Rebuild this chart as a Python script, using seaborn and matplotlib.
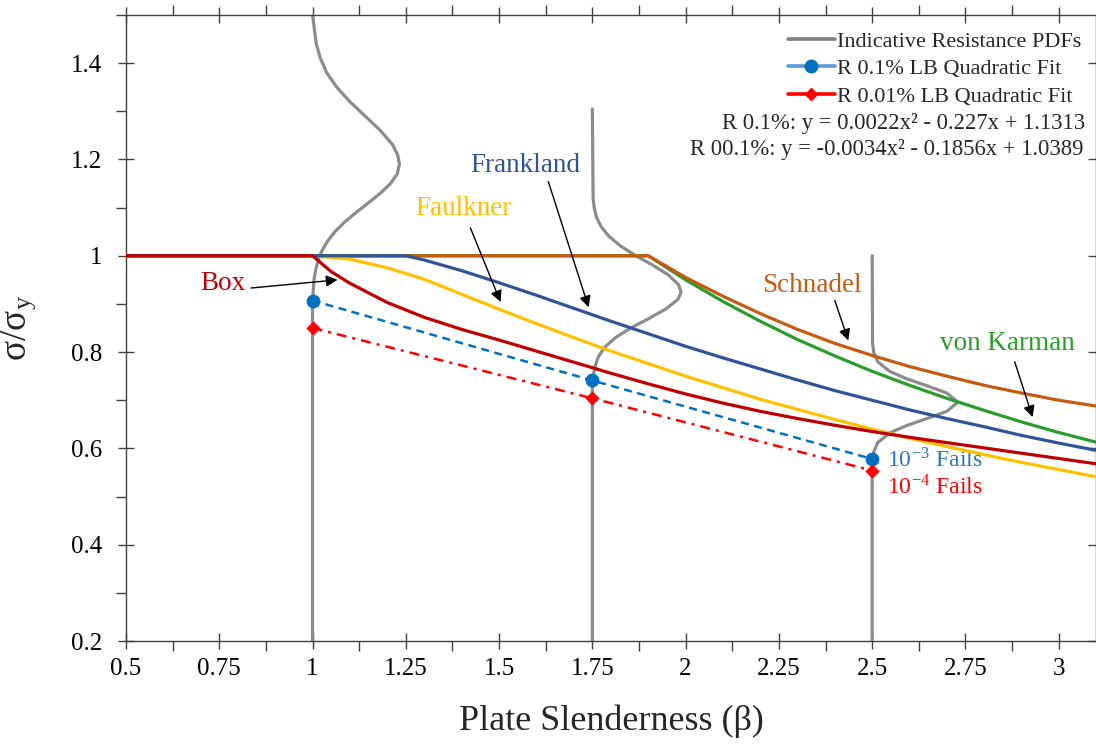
import numpy as np
import matplotlib
matplotlib.use("Agg")
import matplotlib.pyplot as plt
from matplotlib.lines import Line2D
from matplotlib.ticker import MultipleLocator, FuncFormatter
import seaborn as sns

# ---------------- data ----------------
box_beta = [0.5, 1.0, 1.05, 1.1, 1.2, 1.3, 1.4, 1.5, 1.6, 1.7, 1.8, 1.9, 2.0, 2.1, 2.2, 2.3, 2.4,
            2.5, 2.6, 2.7, 2.8, 2.9, 3.0, 3.1]
box_val = [1.0, 1.0, 0.967, 0.943, 0.903, 0.872, 0.847, 0.825, 0.802, 0.779, 0.756, 0.734, 0.713,
           0.694, 0.677, 0.662, 0.648, 0.635, 0.623, 0.612, 0.601, 0.59, 0.579, 0.568]

faulkner_beta = [0.5, 1.0, 1.1, 1.2, 1.3, 1.4, 1.5, 1.6, 1.7, 1.8, 1.9, 2.0, 2.1, 2.2, 2.3, 2.4,
                 2.5, 2.6, 2.7, 2.8, 2.9, 3.0, 3.1]
faulkner_val = [1.0, 1.0, 0.993, 0.975, 0.951, 0.92, 0.889, 0.859, 0.83, 0.802, 0.776, 0.75, 0.726,
                0.702, 0.681, 0.66, 0.64, 0.621, 0.604, 0.587, 0.571, 0.556, 0.541]

frankland_beta = [0.5, 1.25, 1.3, 1.4, 1.5, 1.6, 1.7, 1.8, 1.9, 2.0, 2.1, 2.2, 2.3, 2.4, 2.5,
                  2.6, 2.7, 2.8, 2.9, 3.0, 3.1]
frankland_val = [1.0, 1.0, 0.991, 0.969, 0.944, 0.918, 0.891, 0.864, 0.838, 0.812, 0.788, 0.765,
                 0.742, 0.72, 0.70, 0.68, 0.662, 0.645, 0.627, 0.611, 0.596]

schnadel_beta = [0.5, 1.9, 2.0, 2.1, 2.2, 2.3, 2.4, 2.5, 2.6, 2.7, 2.8, 2.9, 3.0, 3.1]
schnadel_val = [1.0, 1.0, 0.955, 0.916, 0.88, 0.847, 0.818, 0.793, 0.77, 0.75, 0.731, 0.715, 0.70, 0.688]

karman_beta = [0.5, 1.9, 2.0, 2.1, 2.2, 2.3, 2.4, 2.5, 2.6, 2.7, 2.8, 2.9, 3.0, 3.1]
karman_val = [1.0, 1.0, 0.95, 0.905, 0.864, 0.826, 0.792, 0.76, 0.731, 0.704, 0.679, 0.655, 0.633, 0.613]

# quadratic lower-bound fit points
fit_beta = [1.0, 1.75, 2.5]
r01_val = [0.907, 0.741, 0.578]
r001_val = [0.85, 0.704, 0.554]

# indicative resistance PDFs: base slenderness, vertical positions and horizontal offsets
pdf_base = [1.0, 1.75, 2.5]
pdf1_v = [1.5, 1.47, 1.44, 1.41, 1.38, 1.35, 1.32, 1.29, 1.26, 1.23, 1.21, 1.19, 1.17, 1.15, 1.13,
          1.11, 1.09, 1.07, 1.05, 1.03, 1.01, 0.99, 0.97, 0.95, 0.93, 0.9, 0.2]
pdf1_dx = [0.0, 0.005, 0.010, 0.021, 0.038, 0.065, 0.100, 0.141, 0.182, 0.215, 0.228, 0.233, 0.227,
           0.209, 0.182, 0.150, 0.117, 0.086, 0.060, 0.040, 0.025, 0.015, 0.008, 0.004, 0.002, 0.0, 0.0]
pdf2_v = [1.305, 1.12, 1.10, 1.08, 1.06, 1.04, 1.02, 1.00, 0.98, 0.96, 0.94, 0.925, 0.91, 0.89, 0.87,
          0.85, 0.83, 0.81, 0.79, 0.77, 0.75, 0.73, 0.2]
pdf2_dx = [0.0, 0.002, 0.005, 0.011, 0.024, 0.045, 0.076, 0.117, 0.163, 0.204, 0.231, 0.238, 0.230,
           0.198, 0.152, 0.103, 0.062, 0.033, 0.016, 0.007, 0.0025, 0.0, 0.0]
pdf3_v = [1.0, 0.82, 0.80, 0.78, 0.76, 0.745, 0.73, 0.715, 0.696, 0.677, 0.662, 0.647, 0.632, 0.612,
          0.592, 0.578, 0.2]
pdf3_dx = [0.0, 0.001, 0.004, 0.015, 0.047, 0.091, 0.147, 0.200, 0.23, 0.200, 0.147, 0.091, 0.047,
           0.015, 0.004, 0.0, 0.0]

x_ticks = [0.5, 0.75, 1, 1.25, 1.5, 1.75, 2, 2.25, 2.5, 2.75, 3]
y_ticks = [0.2, 0.4, 0.6, 0.8, 1.0, 1.2, 1.4]

legend_labels = ["Indicative Resistance PDFs", "R 0.1% LB Quadratic Fit", "R 0.01% LB Quadratic Fit"]
eq_lines = ["R 0.1%: y = 0.0022x\u00b2 - 0.227x + 1.1313",
            "R 00.1%: y = -0.0034x\u00b2 - 0.1856x + 1.0389"]

# ---------------- styling ----------------
sns.set_theme(style="ticks")
plt.rcParams["font.family"] = ["Liberation Serif", "DejaVu Serif"]
plt.rcParams["mathtext.fontset"] = "stix"

C_BOX = "#C00000"
C_FAULK = "#FFC000"
C_FRANK = "#2F5597"
C_SCHN = "#C55A11"
C_KARM = "#2A9D2A"
C_GREY = "#8C8C8C"
C_BLUE = "#0070C0"
C_RED = "#FF0000"

fig = plt.figure(figsize=(10.96, 7.44), dpi=100)
ax = fig.add_axes([126 / 1096, 103 / 744, 970 / 1096, 626 / 744])

LW = 2.3
# PDFs (underneath)
for base, vv, dd in [(pdf_base[0], pdf1_v, pdf1_dx), (pdf_base[1], pdf2_v, pdf2_dx),
                     (pdf_base[2], pdf3_v, pdf3_dx)]:
    sns.lineplot(x=base + np.array(dd), y=vv, sort=False, estimator=None, color=C_GREY,
                 lw=LW, ax=ax, zorder=1)

sns.lineplot(x=karman_beta, y=karman_val, color=C_KARM, lw=LW, ax=ax, zorder=2)
sns.lineplot(x=schnadel_beta, y=schnadel_val, color=C_SCHN, lw=LW, ax=ax, zorder=3)
sns.lineplot(x=faulkner_beta, y=faulkner_val, color=C_FAULK, lw=LW, ax=ax, zorder=4)
sns.lineplot(x=frankland_beta, y=frankland_val, color=C_FRANK, lw=LW, ax=ax, zorder=5)
sns.lineplot(x=box_beta, y=box_val, color=C_BOX, lw=LW, ax=ax, zorder=6)

sns.lineplot(x=fit_beta, y=r01_val, color=C_BLUE, lw=1.8, linestyle=(0, (3.2, 2.2)), ax=ax, zorder=7)
sns.lineplot(x=fit_beta, y=r001_val, color=C_RED, lw=1.8, linestyle=(0, (4, 2.4, 1.2, 2.4)), ax=ax, zorder=7)
sns.scatterplot(x=fit_beta, y=r01_val, marker="o", s=85, color=C_BLUE, edgecolor=C_BLUE, ax=ax, zorder=8)
sns.scatterplot(x=fit_beta, y=r001_val, marker="D", s=45, color=C_RED, edgecolor=C_RED, ax=ax, zorder=8)

# axes limits and ticks
ax.set_xlim(0.5, 3.1)
ax.set_ylim(0.2, 1.5)
ax.set_xticks(x_ticks)
ax.set_yticks(y_ticks)
ax.xaxis.set_minor_locator(MultipleLocator(0.125))
ax.yaxis.set_minor_locator(MultipleLocator(0.1))
fmt = FuncFormatter(lambda v, p: f"{v:g}")
ax.xaxis.set_major_formatter(fmt)
ax.yaxis.set_major_formatter(fmt)
for s in ax.spines.values():
    s.set_visible(True)
    s.set_color("#404040")
    s.set_linewidth(1.0)
ax.tick_params(which="major", direction="inout", length=12, width=1, color="#404040",
               top=True, right=True, labelsize=18, labelcolor="black")
ax.tick_params(which="minor", direction="out", length=7, width=1, color="#404040", top=True, right=True)
ax.tick_params(axis="x", which="major", pad=6)
ax.tick_params(axis="y", which="major", pad=11)
ax.grid(False)

ax.set_xlabel("Plate Slenderness (\u03b2)", fontsize=26, labelpad=18)
ax.set_ylabel("\u03c3/\u03c3$_\\mathregular{y}$", fontsize=27, labelpad=24)

# curve labels and arrows
TXT = 19.5
ax.text(0.70, 0.942, "Box", color=C_BOX, fontsize=TXT, ha="left", va="center")
ax.text(1.276, 1.098, "Faulkner", color=C_FAULK, fontsize=TXT, ha="left", va="center")
ax.text(1.423, 1.187, "Frankland", color=C_FRANK, fontsize=TXT, ha="left", va="center")
ax.text(2.204, 0.938, "Schnadel", color=C_SCHN, fontsize=TXT, ha="left", va="center")
ax.text(2.681, 0.817, "von Karman", color=C_KARM, fontsize=TXT, ha="left", va="center")
ax.text(2.539, 0.575, "10$^{\\mathregular{-3}}$ Fails", color="#2E75B6", fontsize=17, ha="left", va="center")
ax.text(2.539, 0.519, "10$^{\\mathregular{-4}}$ Fails", color=C_RED, fontsize=17, ha="left", va="center")

arrows = [((0.835, 0.933), (1.067, 0.950)),
          ((1.423, 1.058), (1.504, 0.904)),
          ((1.632, 1.154), (1.740, 0.893)),
          ((2.400, 0.907), (2.436, 0.824)),
          ((2.882, 0.780), (2.930, 0.665))]
for tail, head in arrows:
    ax.annotate("", xy=head, xytext=tail,
                arrowprops=dict(arrowstyle="-|>", color="black", lw=1.0,
                                mutation_scale=17, shrinkA=0, shrinkB=0), zorder=9)

# legend
handles = [Line2D([0], [0], color="#808080", lw=2.6),
           Line2D([0], [0], color="#5B9BD5", lw=2.6, marker="o", markersize=9,
                  markerfacecolor=C_BLUE, markeredgecolor=C_BLUE),
           Line2D([0], [0], color=C_RED, lw=2.6, marker="D", markersize=6.5,
                  markerfacecolor=C_RED, markeredgecolor=C_RED)]
leg = fig.legend(handles, legend_labels, loc="upper left", bbox_to_anchor=(788 / 1096, 1 - 31 / 744),
                 bbox_transform=fig.transFigure, frameon=False, fontsize=16, handlelength=2.1,
                 handletextpad=0.1, labelspacing=0.32, borderpad=0, borderaxespad=0)

fig.text(1085 / 1096, 1 - 124 / 744, eq_lines[0], fontsize=16.3, ha="right", va="center")
fig.text(1083 / 1096, 1 - 150 / 744, eq_lines[1], fontsize=16.3, ha="right", va="center")

fig.savefig("out.png", dpi=100)
